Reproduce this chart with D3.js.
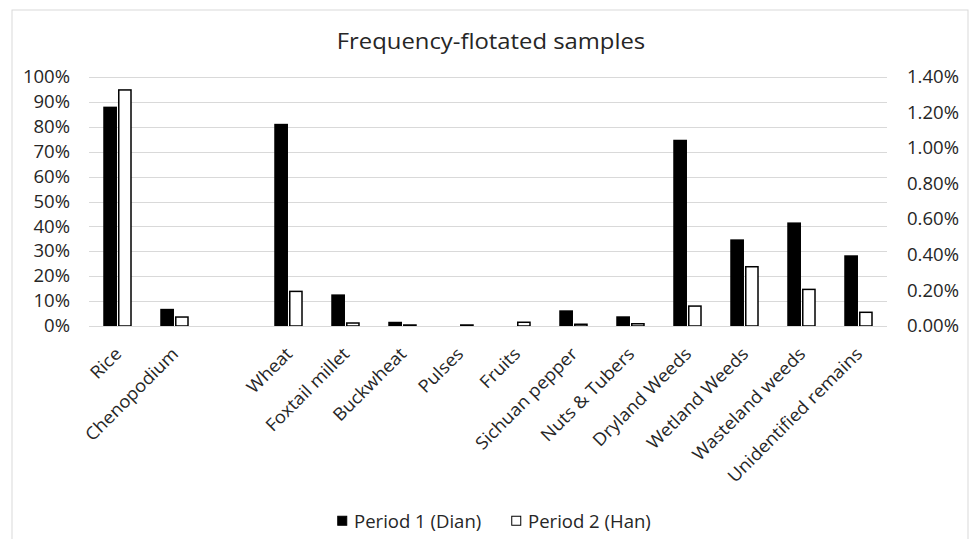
<!DOCTYPE html>
<html>
<head>
<meta charset="utf-8">
<script src="https://cdn.jsdelivr.net/npm/d3@7"></script>
<style>
  html, body { margin: 0; padding: 0; background: #fff; }
  svg text { font-family: "Open Sans", "Noto Sans", sans-serif; fill: #262626; }
</style>
</head>
<body>
<svg id="chart" width="970" height="539"></svg>
<script>
// ---- data ----
const categories = ["Rice", "Chenopodium", "", "Wheat", "Foxtail millet", "Buckwheat", "Pulses",
  "Fruits", "Sichuan pepper", "Nuts & Tubers", "Dryland Weeds", "Wetland Weeds",
  "Wasteland weeds", "Unidentified remains"];
const seriesNames = ["Period 1 (Dian)", "Period 2 (Han)"];
const period1 = [0.881, 0.069, null, 0.812, 0.127, 0.017, 0.0, 0.0, 0.063, 0.039, 0.748, 0.348, 0.416, 0.284];
const period2 = [0.948, 0.036, null, 0.139, 0.012, 0.004, 0.004, 0.015, 0.007, 0.009, 0.080, 0.238, 0.147, 0.055];
const leftTicks = [0, 0.1, 0.2, 0.3, 0.4, 0.5, 0.6, 0.7, 0.8, 0.9, 1.0];
const rightTicks = [0, 0.002, 0.004, 0.006, 0.008, 0.010, 0.012, 0.014];
const title = "Frequency-flotated samples";

// ---- layout ----
const svg = d3.select("#chart");
const plot = { left: 89, right: 887, top: 77, bottom: 326 };
const FS = 17.5;
const SX = 1.06; // horizontal text stretch

// chart border
svg.append("rect").attr("x", 12).attr("y", 10).attr("width", 956).attr("height", 540)
  .attr("fill", "#fff").attr("stroke", "#d9d9d9").attr("stroke-width", 1);

const x0 = d3.scaleBand().domain(categories.map((c, i) => i)).range([plot.left, plot.right]);
const groupW = x0.bandwidth() * 0.5;
const x1 = d3.scaleBand().domain(seriesNames).range([0, groupW]).paddingInner(0.07);
const y = d3.scaleLinear().domain([0, 1]).range([plot.bottom, plot.top]);
const yR = d3.scaleLinear().domain([0, 0.014]).range([plot.bottom, plot.top]);

// gridlines
svg.append("g").selectAll("line").data(leftTicks.slice(1)).join("line")
  .attr("x1", plot.left).attr("x2", plot.right)
  .attr("y1", d => Math.round(y(d)) + 0.5).attr("y2", d => Math.round(y(d)) + 0.5)
  .attr("stroke", "#d9d9d9").attr("stroke-width", 1);

// left axis
const yAxis = d3.axisLeft(y).tickValues(leftTicks).tickFormat(d3.format(".0%")).tickSize(0).tickPadding(0);
const gl = svg.append("g").attr("transform", `translate(70,0)`).call(yAxis);
gl.select(".domain").remove();
gl.selectAll("text").attr("font-size", FS).attr("fill", "#262626")
  .style("font-family", "'Open Sans', sans-serif").attr("transform", `scale(${SX},1)`);

// right axis
const yAxisR = d3.axisRight(yR).tickValues(rightTicks).tickFormat(d3.format(".2%")).tickSize(0).tickPadding(0);
const gr = svg.append("g").attr("transform", `translate(907,0)`).call(yAxisR);
gr.select(".domain").remove();
gr.selectAll("text").attr("font-size", FS).attr("fill", "#262626")
  .style("font-family", "'Open Sans', sans-serif").attr("transform", `scale(${SX},1)`);

// bars
const rows = categories.map((c, i) => ({ i, vals: [period1[i], period2[i]] }));
const groups = svg.append("g").selectAll("g").data(rows).join("g")
  .attr("transform", d => `translate(${x0(d.i) + (x0.bandwidth() - groupW) / 2},0)`);
groups.selectAll("rect").data(d => d.vals.map((v, k) => ({ v, k })).filter(e => e.v !== null && e.v > 0))
  .join("rect")
  .attr("x", e => x1(seriesNames[e.k]) + (e.k === 1 ? 0.75 : 0))
  .attr("width", e => x1.bandwidth() - (e.k === 1 ? 1.5 : 0))
  .attr("y", e => y(e.v))
  .attr("height", e => y(0) - y(e.v))
  .attr("fill", e => e.k === 0 ? "#000" : "#fff")
  .attr("stroke", e => e.k === 0 ? "none" : "#000")
  .attr("stroke-width", 1.5);

// baseline
svg.append("line").attr("x1", plot.left).attr("x2", plot.right)
  .attr("y1", plot.bottom + 0.5).attr("y2", plot.bottom + 0.5)
  .attr("stroke", "#d9d9d9").attr("stroke-width", 1);

// category labels
const xAxis = d3.axisBottom(x0).tickFormat(i => categories[i]).tickSize(0).tickPadding(0);
const gx = svg.append("g").attr("transform", `translate(0,${plot.bottom})`).call(xAxis);
gx.select(".domain").remove();
gx.selectAll(".tick text")
  .attr("font-size", FS).attr("fill", "#262626")
  .style("font-family", "'Open Sans', sans-serif")
  .attr("text-anchor", "end")
  .attr("dy", null)
  .attr("transform", `translate(5,29) rotate(-45) scale(${SX},1)`);

// title
svg.append("text").attr("x", 491).attr("y", 49).attr("text-anchor", "middle")
  .attr("font-size", 22.5).attr("transform", `translate(491,0) scale(${SX},1) translate(-491,0)`)
  .text(title);

// legend
const legend = svg.append("g").attr("transform", "translate(337,521)");
const lg = legend.selectAll("g").data(seriesNames).join("g")
  .attr("transform", (d, k) => `translate(${k * 174},0)`);
lg.append("rect").attr("x", 0.75).attr("y", -4.75).attr("width", 9).attr("height", 9)
  .attr("fill", (d, k) => k === 0 ? "#000" : "#fff")
  .attr("stroke", "#000").attr("stroke-width", 1);
lg.append("text").attr("x", 17).attr("y", 6.5).attr("font-size", FS)
  .attr("transform", `translate(17,0) scale(${SX},1) translate(-17,0)`).text(d => d);
</script>
</body>
</html>
